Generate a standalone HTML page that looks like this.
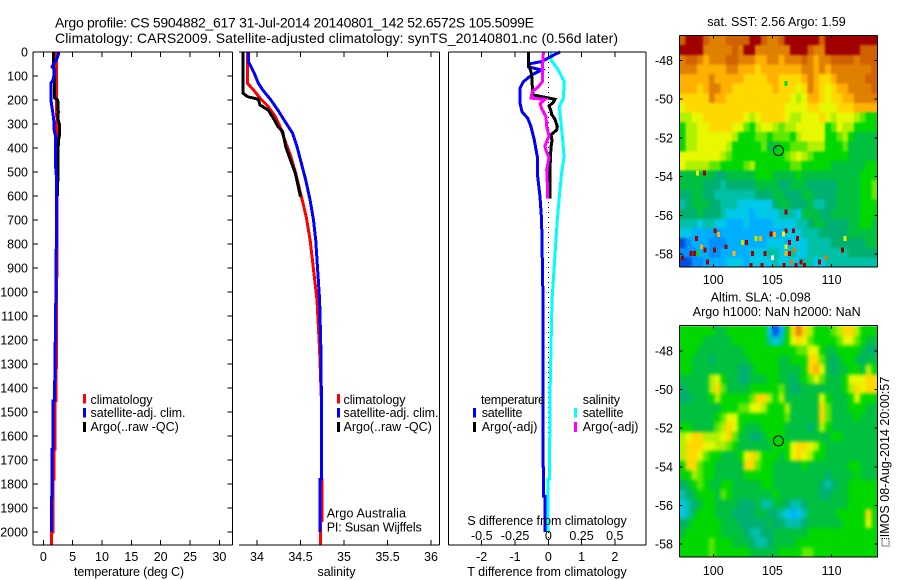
<!DOCTYPE html>
<html>
<head>
<meta charset="utf-8">
<title>Argo profile chart</title>
<style>
html,body{margin:0;padding:0;background:#fff;}
svg{display:block;}
text{font-family:"Liberation Sans",sans-serif;font-size:12.5px;fill:#000;}
.title{font-size:14px;}
</style>
</head>
<body>
<svg id="fig" xmlns="http://www.w3.org/2000/svg" width="900" height="580" viewBox="0 0 900 580">
<defs>
<filter id="soft-sst" x="-5%" y="-5%" width="110%" height="110%" color-interpolation-filters="sRGB"><feGaussianBlur stdDeviation="1"/></filter>
<filter id="soft-sla" x="-5%" y="-5%" width="110%" height="110%" color-interpolation-filters="sRGB"><feGaussianBlur stdDeviation="1.8"/></filter>
<clipPath id="clip-sst"><rect x="679.7" y="35.7" width="197.6" height="231.3"/></clipPath>
<clipPath id="clip-sla"><rect x="679.7" y="325.7" width="197.6" height="231.3"/></clipPath>
</defs>
<g id="heat-sst"></g>
<g clip-path="url(#clip-sst)"><use href="#heat-sst" filter="url(#soft-sst)"/></g>
<g id="heat-sla"></g>
<g clip-path="url(#clip-sla)"><use href="#heat-sla" filter="url(#soft-sla)"/></g>
<g id="specks"></g>
<g id="marks"></g>
<g id="axes"></g>

<text class="title" x="55" y="27.5" textLength="479" lengthAdjust="spacing">Argo profile: CS 5904882_617 31-Jul-2014 20140801_142 52.6572S 105.5099E</text>
<text class="title" x="55" y="43" textLength="563" lengthAdjust="spacing">Climatology: CARS2009. Satellite-adjusted climatology: synTS_20140801.nc (0.56d later)</text>

<text x="74" y="576" textLength="110" lengthAdjust="spacing">temperature (deg C)</text>
<text x="317.5" y="576" textLength="38" lengthAdjust="spacing">salinity</text>
<text x="467.3" y="576" textLength="159.4" lengthAdjust="spacing">T difference from climatology</text>
<text x="467.3" y="525" textLength="159.4" lengthAdjust="spacing">S difference from climatology</text>

<g>
<rect x="83" y="394" width="3" height="9.5" fill="#f00"/>
<rect x="83" y="408" width="3" height="9.5" fill="#00f"/>
<rect x="83" y="422" width="3" height="10" fill="#000"/>
<text x="90.5" y="404" textLength="62" lengthAdjust="spacing">climatology</text>
<text x="90.5" y="417" textLength="95" lengthAdjust="spacing">satellite-adj. clim.</text>
<text x="90.5" y="431" textLength="88.3" lengthAdjust="spacing">Argo(..raw -QC)</text>
</g>

<g>
<rect x="337" y="394" width="3" height="9.5" fill="#f00"/>
<rect x="337" y="408" width="3" height="9.5" fill="#00f"/>
<rect x="337" y="422" width="3" height="10" fill="#000"/>
<text x="343.5" y="404" textLength="62" lengthAdjust="spacing">climatology</text>
<text x="343.5" y="417" textLength="95" lengthAdjust="spacing">satellite-adj. clim.</text>
<text x="343.5" y="431" textLength="88.3" lengthAdjust="spacing">Argo(..raw -QC)</text>
</g>
<text x="326.7" y="517.5" textLength="79.3" lengthAdjust="spacing">Argo Australia</text>
<text x="326.7" y="531.5" textLength="95" lengthAdjust="spacing">PI: Susan Wijffels</text>

<g>
<text x="481" y="404" textLength="64" lengthAdjust="spacing">temperature</text>
<text x="582.7" y="404" textLength="37.3" lengthAdjust="spacing">salinity</text>
<rect x="473" y="408" width="3" height="9.5" fill="#00f"/>
<rect x="473" y="422" width="3" height="10" fill="#000"/>
<rect x="574" y="408" width="3" height="9.5" fill="#0ff"/>
<rect x="574" y="422" width="3" height="10" fill="#f0f"/>
<text x="481.7" y="417" textLength="40.7" lengthAdjust="spacing">satellite</text>
<text x="481.7" y="431" textLength="55.7" lengthAdjust="spacing">Argo(-adj)</text>
<text x="582.7" y="417" textLength="40.7" lengthAdjust="spacing">satellite</text>
<text x="582.7" y="431" textLength="55.7" lengthAdjust="spacing">Argo(-adj)</text>
</g>

<text x="707.3" y="26" textLength="138.4" lengthAdjust="spacing">sat. SST: 2.56 Argo: 1.59</text>
<text x="710.7" y="301.5" textLength="100" lengthAdjust="spacing">Altim. SLA: -0.098</text>
<text x="692.7" y="316" textLength="168" lengthAdjust="spacing">Argo h1000: NaN h2000: NaN</text>

<text transform="translate(889,537.3) rotate(-90)" x="0" y="0" textLength="160.6" lengthAdjust="spacing">IMOS 08-Aug-2014 20:00:57</text>
<rect x="882" y="538.5" width="7" height="7.5" fill="none" stroke="#000" stroke-width="1" stroke-dasharray="1 1"/>
</svg>

<script>
// ---------- profile data: depth (m) with values ----------
const climTempDepth = [0,100,200,280,350,400,600,900,1200,1453,1454,1654,1655,1779,1780,1953,2000,2001,2054];
const climTemp      = [2.28,2.25,2.25,2.3,2.38,2.4,2.33,2.3,2.25,2.16,2.0,2.0,1.82,1.82,1.65,1.65,1.65,1.4,1.4];
const satTempDepth  = [0,10,30,61,80,120,130,200,250,280,330,350,480,500,600,1000,1453,1454,1654,1655,1854,1855,2000];
const satTemp       = [2.56,2.56,2.28,1.5,2.0,1.6,1.3,1.3,1.6,1.77,1.87,2.1,2.1,2.2,2.28,2.15,1.9,1.65,1.65,1.48,1.48,1.37,1.37];
const argoTempDepth = [0,40,100,190,200,250,280,300,350,370,500,600];
const argoTemp      = [1.7,1.7,1.87,1.87,2.45,2.55,2.5,2.73,2.73,2.55,2.5,2.4];

const climSalDepth = [0,130,158,192,228,269,311,367,436,505,603,686,783,1033,1242,1450,1780,1781,1953,1954,2054];
const climSal      = [33.89,33.89,33.96,34.035,34.13,34.21,34.265,34.32,34.39,34.445,34.51,34.565,34.61,34.69,34.72,34.74,34.74,34.745,34.745,34.73,34.73];
const satSalDepth  = [0,40,89,130,158,200,242,283,339,394,464,533,617,700,783,1033,1242,1450,1780,1781,2000];
const satSal       = [33.9,33.9,33.97,34.015,34.065,34.16,34.24,34.31,34.41,34.46,34.51,34.56,34.61,34.65,34.675,34.72,34.735,34.74,34.74,34.725,34.725];
const argoSalDepth = [0,172,186,197,221,242,283,311,332,394,436,505,603];
const argoSal      = [33.84,33.84,33.89,34.015,34.035,34.13,34.2,34.24,34.295,34.33,34.37,34.44,34.5];

const diffDepthSatT = [0,10,40,50,62,75,96,124,151,213,249,276,311,367,436,505,603,700,1033,1850,1851,2000];
const diffSatT      = [0.35,0.2,-0.2,-0.6,-0.6,-0.2,-0.5,-0.75,-0.85,-0.85,-0.79,-0.62,-0.52,-0.42,-0.33,-0.33,-0.25,-0.2,-0.16,-0.15,-0.1,-0.1];
const diffDepthSatS = [0,33,75,124,193,228,283,367,436,505,603,700,1033,1450,1780,1781,2000];
const diffSatS      = [0.02,0.02,0.075,0.12,0.113,0.083,0.093,0.108,0.118,0.1,0.083,0.068,0.028,0.012,0.01,-0.003,-0.003];
const diffDepthArgoT = [0,50,90,165,179,197,210,225,245,260,280,311,325,345,370,395,450,530,610];
const diffArgoT      = [-0.6,-0.6,-0.5,-0.47,-0.45,0.2,0.15,0.02,0.08,0.1,0.2,0.27,0.25,0.08,0.11,0.08,0.06,0.05,0.05];
const diffDepthArgoS = [0,50,124,145,165,192,197,215,235,270,311,350,390,405,440,490,530,610];
const diffArgoS      = [-0.037,-0.042,-0.045,-0.075,-0.12,-0.13,-0.025,-0.062,-0.05,-0.017,-0.012,0.005,-0.025,-0.02,0.005,-0.012,-0.008,-0.005];

// ---------- axis tick labels ----------
const depthTicks = [0,100,200,300,400,500,600,700,800,900,1000,1100,1200,1300,1400,1500,1600,1700,1800,1900,2000];
const tempTicks  = [0,5,10,15,20,25,30];
const salTicks   = ["34","34.5","35","35.5","36"];
const tDiffTicks = [-2,-1,0,1,2];
const sDiffTicks = ["-0.5","-0.25","0","0.25","0.5"];
const lonTicks   = [100,105,110];
const latTicks   = [-48,-50,-52,-54,-56,-58];

// ---------- map data (colour levels, north to south, west to east) ----------
const sstGrid = [
[15,16,16,16,15,14,14,14,15,15,15,15,16,16,15,14,14,15,16,16,16,16,16,16,15,16,16,16,16,16,16,16,16,16],
[16,16,16,16,14,14,14,14,14,15,14,16,16,14,14,14,14,14,14,16,16,16,15,14,14,16,16,16,16,16,16,15,15,15],
[14,15,15,14,13,14,14,14,15,15,14,14,14,13,13,14,14,13,14,14,14,15,14,13,14,14,15,15,15,15,14,15,15,15],
[14,14,14,13,13,13,13,13,14,14,13,13,13,12,13,13,13,13,13,13,13,14,14,13,14,13,14,14,14,14,14,14,14,15],
[13,13,13,13,13,14,13,13,13,13,13,12,12,12,12,13,13,12,12,12,12,13,14,13,12,12,13,14,14,14,14,14,15,15],
[13,13,13,12,13,14,14,13,13,12,12,12,12,12,12,12,13,12,12,12,11,12,14,13,12,11,12,13,13,14,14,14,14,15],
[12,12,12,12,12,14,13,13,12,12,12,12,12,12,12,12,12,12,12,11,10,11,13,13,12,11,12,12,13,13,14,14,14,14],
[11,12,12,12,12,12,12,12,12,12,12,12,12,12,12,12,12,12,11,11,11,11,12,12,11,11,11,12,12,12,13,13,13,13],
[10,10,11,11,12,12,12,12,12,12,12,11,10,11,12,12,12,12,11,10,10,11,11,11,12,11,10,11,11,11,10,9,8,8],
[8,10,10,11,11,12,12,12,12,11,11,9,8,10,11,11,10,9,10,10,11,11,11,11,11,8,9,11,10,10,8,8,8,8],
[8,10,10,11,11,11,11,11,11,10,8,8,8,9,9,8,9,9,9,8,10,11,11,11,11,8,8,9,10,8,7,7,7,7],
[8,10,10,11,11,11,11,11,10,8,8,8,8,8,9,7,7,8,8,9,9,9,10,10,10,8,8,8,9,7,7,7,7,7],
[11,11,11,11,11,11,11,10,9,8,8,8,8,8,8,8,8,8,9,10,11,10,9,8,8,8,8,8,8,7,7,7,7,7],
[11,10,10,10,10,9,9,8,8,8,8,9,10,8,8,8,8,8,8,9,9,8,8,8,8,8,7,7,7,7,7,7,8,8],
[7,7,7,7,7,7,6,6,7,7,7,7,7,8,8,8,7,7,7,7,8,7,7,7,7,7,7,7,7,7,7,8,8,8],
[7,7,7,7,6,6,6,5,6,6,6,6,6,7,7,7,7,6,6,7,7,7,6,6,6,6,6,7,7,7,7,8,8,9],
[6,6,7,7,6,6,5,5,5,5,5,5,5,6,6,6,7,7,6,6,6,7,7,6,6,6,6,7,7,7,7,8,8,9],
[5,6,7,7,7,6,6,5,5,5,4,4,4,4,4,4,6,7,7,6,6,6,7,5,5,6,6,7,7,7,7,8,8,8],
[6,6,6,7,6,6,6,5,4,4,4,4,3,4,4,4,4,5,5,5,4,7,7,7,6,6,7,7,7,7,7,8,8,8],
[5,5,5,4,5,5,4,4,3,3,3,4,3,3,3,3,4,4,4,4,5,5,6,7,7,6,6,6,6,7,7,8,8,7],
[4,4,3,3,3,3,2,3,3,3,3,3,3,3,3,3,3,3,4,4,4,5,5,5,6,6,6,6,6,7,7,7,7,7],
[1,2,3,3,3,2,2,2,3,3,3,3,3,3,3,4,4,4,3,4,4,4,5,5,5,5,6,6,6,6,6,6,7,7],
[2,2,2,3,3,2,2,3,3,3,3,3,4,4,4,5,5,4,4,5,4,4,5,5,5,5,5,5,5,6,6,6,6,6],
[1,1,2,2,3,3,3,3,4,4,4,3,4,4,4,4,5,4,4,4,4,5,5,4,4,5,5,5,5,5,5,5,5,5]
];
const sstSpeckLon = [106.14,98.68,99.24,106.14,100.14,100.45,98.6,106.14,105.92,106.76,104.87,105.18,107.13,111.13,110.93,101.07,102.82,102.48,103.97,103.61,106.42,106.14,103.32,104.39,98.39,98.1,99.0,99.3,98.7,105.0,106.42,106.85,106.14,107.41,106.56,108.96,109.52,103.18,104.1,105.99,106.99,107.69,97.4,99.52,100.08,101.77];
const sstSpeckLat = [-49.2,-53.81,-53.81,-55.82,-56.8,-56.99,-57.19,-56.8,-56.97,-56.8,-56.97,-56.99,-57.19,-57.19,-57.79,-57.62,-57.4,-57.4,-57.19,-57.19,-57.4,-57.62,-57.97,-57.97,-57.97,-57.97,-57.62,-57.79,-57.97,-58.19,-57.97,-57.79,-57.97,-58.4,-58.4,-58.4,-58.19,-58.57,-58.57,-58.57,-58.57,-58.57,-58.19,-58.4,-57.79,-57.97];
const sstSpeckVal = [8,11,16,16,16,13,16,16,11,16,16,13,16,11,16,16,16,10,13,10,16,11,16,16,16,16,13,16,8,17,16,14,13,16,14,16,14,16,16,16,16,16,16,16,16,13];

const slaGrid = [
[8,8,8,8,8,8,7,7,8,8,8,8,8,8,8,4,1,3,8,12,14,12,10,8,8,8,9,10,12,12,10,8,8,8],
[8,8,8,8,7,7,7,7,7,8,8,8,8,8,8,5,4,5,8,11,12,11,9,8,8,8,8,9,11,11,9,8,7,7],
[8,8,8,7,7,7,7,7,7,7,7,8,8,8,8,8,8,8,8,8,9,9,11,11,8,7,7,8,8,8,8,7,6,6],
[8,8,7,7,7,6,7,7,7,7,7,7,8,8,8,8,8,7,7,8,8,8,12,12,9,7,6,7,8,8,7,6,7,7],
[8,8,7,7,7,7,7,7,7,7,6,6,7,8,8,8,8,7,7,7,7,8,12,13,11,7,6,7,7,8,8,7,10,8],
[7,7,7,7,7,10,11,8,7,7,6,6,7,7,7,8,8,7,7,6,7,8,9,11,9,7,7,7,8,11,11,11,12,12],
[6,7,7,7,7,10,12,9,7,7,7,7,8,8,8,8,8,9,7,6,6,7,7,7,7,7,7,7,8,10,12,11,12,12],
[6,6,7,7,7,8,10,8,8,8,8,8,9,12,12,10,8,10,7,7,7,7,7,7,11,8,7,7,7,8,11,8,8,8],
[7,7,7,7,7,7,7,8,8,8,9,9,11,11,10,8,8,8,10,7,7,7,7,7,12,9,7,7,7,8,8,8,7,7],
[7,7,7,7,7,7,8,9,11,11,8,8,8,8,8,8,8,8,9,7,7,7,7,7,12,9,7,7,7,7,8,7,7,7],
[8,8,7,7,7,7,9,10,12,11,8,7,7,7,8,8,8,8,7,7,7,7,6,7,10,8,7,7,7,7,7,7,7,7],
[10,11,12,12,10,10,10,11,12,9,7,7,6,6,7,8,8,8,7,7,7,7,7,7,7,7,8,8,7,7,7,7,7,7],
[10,12,12,12,11,11,10,10,9,8,7,7,7,7,7,7,8,8,8,11,12,12,11,10,8,7,7,7,7,7,7,7,7,7],
[10,12,12,11,9,8,8,7,7,7,8,11,12,10,8,8,8,7,8,11,12,11,10,8,8,7,7,7,7,7,7,7,7,7],
[8,12,12,9,8,8,7,7,7,7,7,12,12,9,8,8,7,7,7,7,7,8,7,7,7,7,7,7,7,8,8,7,7,7],
[8,8,10,9,8,8,7,7,7,7,7,8,8,8,8,8,7,7,7,7,7,7,7,7,7,6,7,7,7,7,8,7,7,7],
[6,7,8,9,8,7,7,8,8,7,7,7,7,7,8,8,7,7,7,7,7,7,7,7,6,5,6,7,7,8,8,8,8,8],
[5,6,7,8,8,8,7,9,8,7,7,7,7,7,7,7,8,7,7,7,7,7,7,7,6,6,7,7,7,8,8,8,8,8],
[4,5,6,7,8,8,7,7,7,7,6,6,6,7,5,5,7,7,6,5,5,6,7,7,7,7,7,7,7,8,8,8,8,8],
[4,5,7,8,8,8,7,7,7,6,6,6,6,7,7,6,6,5,4,3,4,5,7,7,7,7,7,8,8,8,8,8,12,8],
[6,7,8,8,8,8,8,7,7,7,6,6,6,6,6,7,6,6,5,5,5,6,7,7,7,7,7,7,8,8,8,8,11,8],
[7,8,8,8,8,8,8,7,7,7,7,6,5,5,6,6,7,7,7,7,7,7,8,8,8,8,8,8,8,8,8,8,8,8],
[8,8,8,8,8,9,8,8,8,7,7,7,6,5,5,6,7,7,7,7,8,8,8,8,8,8,8,8,8,8,8,8,8,8],
[8,8,8,8,8,9,8,8,8,8,8,8,7,7,7,7,7,8,8,8,8,9,9,8,8,8,8,8,8,8,8,8,8,8]
];
const floatLon = [105.51];
const floatLat = [-52.657];

const palette = ["#0000b0","#0050e0","#0090ff","#00b0ff","#00c8e8","#00c0a8","#00b070","#00c040","#00d800","#60e800","#b0f000","#e8f800","#ffd800","#ffb000","#e08000","#d06000","#a00000","#ffffff"];

// ---------- axis functions ----------
const NS = "http://www.w3.org/2000/svg";
const depthY = d => 52 + 0.24 * d;
const tempX  = t => 43.3 + 5.87 * t;
const salX   = s => 257 + 87 * (s - 34);
const tDiffX = t => 548.3 + 33.3 * t;
const sDiffX = s => 548.3 + 133 * s;
const lonX   = lon => 713.3 + 11.83 * (lon - 100);
const sstY   = lat => 60.3 + 19.38 * (-48 - lat);
const slaY   = lat => 351 + 19.3 * (-48 - lat);

const marks = document.getElementById("marks");
const axes = document.getElementById("axes");
const specks = document.getElementById("specks");

function seg(x1, y1, x2, y2, name) {
  const el = document.createElementNS(NS, "line");
  el.setAttribute("x1", x1);
  el.setAttribute("y1", y1);
  el.setAttribute("x2", x2);
  el.setAttribute("y2", y2);
  el.setAttribute("stroke", "#000");
  el.setAttribute("stroke-width", "1");
  el.setAttribute("shape-rendering", "crispEdges");
  
  
  axes.appendChild(el);
  return el;
}
function label(x, y, str, anchor, name) {
  const el = document.createElementNS(NS, "text");
  el.setAttribute("x", x);
  el.setAttribute("y", y);
  el.setAttribute("text-anchor", anchor);
  el.textContent = str;
  
  
  axes.appendChild(el);
}
function profile(depths, values, xFn, color, name, width) {
  const el = document.createElementNS(NS, "polyline");
  const pts = depths.map((d, i) => xFn(values[i]).toFixed(1) + "," + depthY(d).toFixed(1));
  el.setAttribute("points", pts.join(" "));
  el.setAttribute("fill", "none");
  el.setAttribute("stroke", color);
  el.setAttribute("stroke-width", width);
  el.setAttribute("shape-rendering", "crispEdges");
  
  
  marks.appendChild(el);
}
const lonStart = 97.16, lonEnd = 113.86, latStart = -46.72, latEnd = -58.67;
function drawGrid(grid, yFn, cellName, parent) {
  grid.forEach((row, r) => {
    const lat0 = latStart + (latEnd - latStart) * r / grid.length;
    const lat1 = latStart + (latEnd - latStart) * (r + 1) / grid.length;
    row.forEach((v, c) => {
      const lon0 = lonStart + (lonEnd - lonStart) * c / row.length;
      const lon1 = lonStart + (lonEnd - lonStart) * (c + 1) / row.length;
      const el = document.createElementNS(NS, "rect");
      el.setAttribute("x", lonX(lon0).toFixed(2));
      el.setAttribute("y", yFn(lat0).toFixed(2));
      el.setAttribute("width", (lonX(lon1) - lonX(lon0) + 0.5).toFixed(2));
      el.setAttribute("height", (yFn(lat1) - yFn(lat0) + 0.5).toFixed(2));
      el.setAttribute("fill", palette[v]);
      el.setAttribute("shape-rendering", "crispEdges");
      
      
      parent.appendChild(el);
    });
  });
}
drawGrid(sstGrid, sstY, "sst-cell", document.getElementById("heat-sst"));
drawGrid(slaGrid, slaY, "sla-cell", document.getElementById("heat-sla"));

sstSpeckVal.forEach((v, i) => {
  const el = document.createElementNS(NS, "rect");
  el.setAttribute("x", (lonX(sstSpeckLon[i]) - 1.5).toFixed(2));
  el.setAttribute("y", (sstY(sstSpeckLat[i]) - 2.4).toFixed(2));
  el.setAttribute("width", "3");
  el.setAttribute("height", "4.8");
  el.setAttribute("fill", palette[v]);
  el.setAttribute("shape-rendering", "crispEdges");
  
  
  specks.appendChild(el);
});

// ---------- profiles ----------
profile(climTempDepth, climTemp, tempX, "#f00", "temperature-climatology-line", 3);
profile(argoTempDepth, argoTemp, tempX, "#000", "temperature-argo-line", 3);
profile(satTempDepth, satTemp, tempX, "#00f", "temperature-satellite-line", 3);

profile(climSalDepth, climSal, salX, "#f00", "salinity-climatology-line", 3);
profile(satSalDepth, satSal, salX, "#00f", "salinity-satellite-line", 3);
profile(argoSalDepth, argoSal, salX, "#000", "salinity-argo-line", 3);

const zeroLine = document.createElementNS(NS, "line");
zeroLine.setAttribute("x1", tDiffX(0));
zeroLine.setAttribute("x2", tDiffX(0));
zeroLine.setAttribute("y1", 52);
zeroLine.setAttribute("y2", 545);
zeroLine.setAttribute("stroke", "#000");
zeroLine.setAttribute("stroke-dasharray", "1 4");
zeroLine.setAttribute("shape-rendering", "crispEdges");


marks.appendChild(zeroLine);

profile(diffDepthSatS, diffSatS, sDiffX, "#0ff", "s-difference-satellite-line", 3);
profile(diffDepthSatT, diffSatT, tDiffX, "#00f", "t-difference-satellite-line", 3);
profile(diffDepthArgoT, diffArgoT, tDiffX, "#000", "t-difference-argo-line", 3);
profile(diffDepthArgoS, diffArgoS, sDiffX, "#f0f", "s-difference-argo-line", 3);

// ---------- profile panel frames ----------
const top0 = 52, bot0 = 545;
seg(33, top0, 232.5, top0, "temperature-top-border");
seg(33, bot0, 232.5, bot0, "temperature-bottom-border");
seg(33, top0, 33, bot0, "temperature-left-border");
seg(232.5, top0, 232.5, bot0, "temperature-right-border");
seg(239, top0, 439.5, top0, "salinity-top-border");
seg(239, bot0, 439.5, bot0, "salinity-bottom-border");
seg(439.5, top0, 439.5, bot0, "salinity-right-border");
seg(448.5, top0, 646, top0, "difference-top-border");
seg(448.5, bot0, 646, bot0, "difference-bottom-border");
seg(448.5, top0, 448.5, bot0, "difference-left-border");
seg(646, top0, 646, bot0, "difference-right-border");

depthTicks.forEach(d => {
  seg(33, depthY(d), 38, depthY(d), "depth-tick-left");
  seg(227.5, depthY(d), 232.5, depthY(d), "depth-tick-right");
  label(28, depthY(d) + 4.5, String(d), "end", "depth-tick-label");
});
tempTicks.forEach(t => {
  seg(tempX(t), top0, tempX(t), top0 + 5, "temperature-tick-top");
  seg(tempX(t), bot0 - 5, tempX(t), bot0, "temperature-tick-bottom");
  label(tempX(t), 561, String(t), "middle", "temperature-tick-label");
});
salTicks.forEach(s => {
  seg(salX(+s), top0, salX(+s), top0 + 5, "salinity-tick-top");
  seg(salX(+s), bot0 - 5, salX(+s), bot0, "salinity-tick-bottom");
  label(salX(+s), 561, s, "middle", "salinity-tick-label");
});
tDiffTicks.forEach(t => {
  seg(tDiffX(t), top0, tDiffX(t), top0 + 5, "t-difference-tick-top");
  seg(tDiffX(t), bot0 - 5, tDiffX(t), bot0, "t-difference-tick-bottom");
  label(tDiffX(t), 561, String(t), "middle", "t-difference-tick-label");
});
sDiffTicks.forEach(s => {
  label(sDiffX(+s), 540, s, "middle", "s-difference-tick-label");
});

// ---------- map frames ----------
function mapFrame(yFn, top, bot, prefix, lonLabelY) {
  const l = 679.7, r = 877.3;
  seg(l, top, r, top, prefix + "-top-border");
  seg(l, bot, r, bot, prefix + "-bottom-border");
  seg(l, top, l, bot, prefix + "-left-border");
  seg(r, top, r, bot, prefix + "-right-border");
  lonTicks.forEach(lon => {
    seg(lonX(lon), top, lonX(lon), top + 3, prefix + "-lon-tick-top");
    seg(lonX(lon), bot - 3, lonX(lon), bot, prefix + "-lon-tick-bottom");
    label(lonX(lon), lonLabelY, String(lon), "middle", prefix + "-lon-label");
  });
  latTicks.forEach(lat => {
    seg(l, yFn(lat), l + 3, yFn(lat), prefix + "-lat-tick-left");
    seg(r - 3, yFn(lat), r, yFn(lat), prefix + "-lat-tick-right");
    label(673, yFn(lat) + 4.5, String(lat), "end", prefix + "-lat-label");
  });
  const dot = document.createElementNS(NS, "circle");
  dot.setAttribute("cx", lonX(floatLon[0]));
  dot.setAttribute("cy", yFn(floatLat[0]));
  dot.setAttribute("r", "5");
  dot.setAttribute("fill", "none");
  dot.setAttribute("stroke", "#000");
  dot.setAttribute("stroke-width", "1");
  
  
  axes.appendChild(dot);
}
mapFrame(sstY, 35.7, 267, "sst-map", 284);
mapFrame(slaY, 325.7, 557, "sla-map", 575);
</script>
</body>
</html>
